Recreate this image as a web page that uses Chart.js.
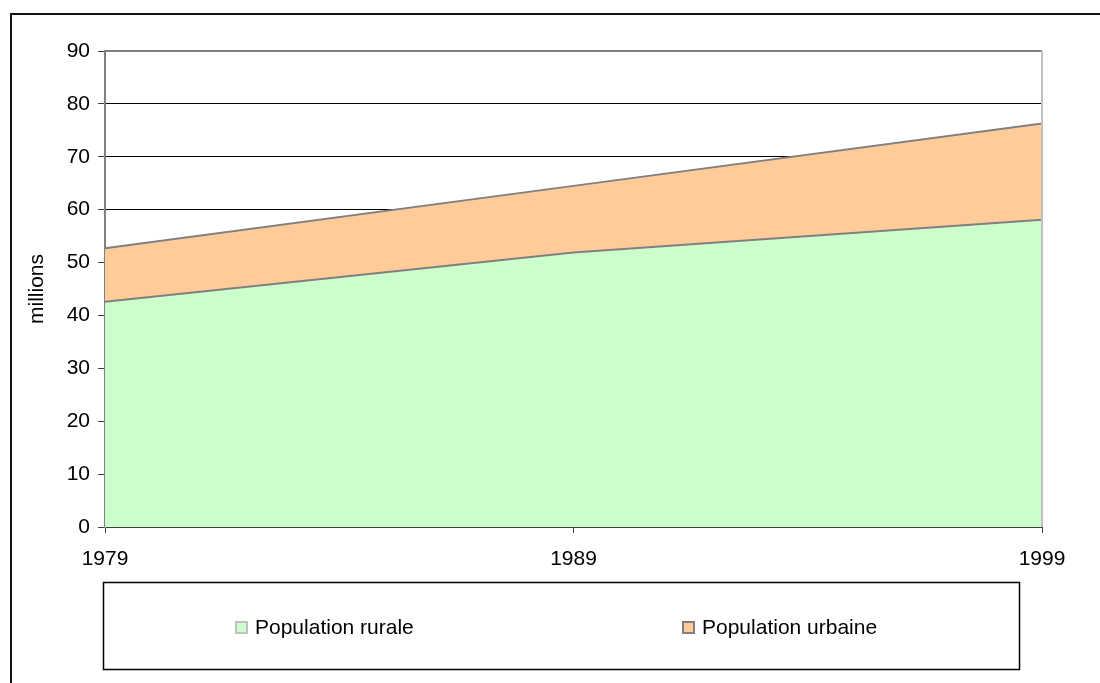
<!DOCTYPE html>
<html>
<head>
<meta charset="utf-8">
<script src="https://cdn.jsdelivr.net/npm/chart.js@4"></script>
<style>
  html, body { margin: 0; padding: 0; background: #fff; overflow: hidden; }
  #wrap { position: relative; width: 1100px; height: 683px; }
  #frame { position: absolute; left: 10px; top: 13px; width: 1200px; height: 800px;
           border-top: 2px solid #111; border-left: 2px solid #111; }
  canvas { position: absolute; left: 0; top: 0; }
</style>
</head>
<body>
<div id="wrap">
  <div id="frame"></div>
  <canvas id="chart" width="1100" height="683"></canvas>
</div>
<script>
const years = ['1979', '1989', '1999'];
const rurale = [42.6, 51.9, 58.1];
const urbaine = [10.1, 12.6, 18.2];
const yTicks = [0, 10, 20, 30, 40, 50, 60, 70, 80, 90];

const FONT = "'Liberation Sans', Arial, sans-serif";
Chart.defaults.font.family = FONT;
Chart.defaults.color = '#000';

// plot border (top / right) + legend box
const decor = {
  id: 'decor',
  afterDatasetsDraw(chart) {
    const { ctx, chartArea: a } = chart;
    ctx.save();
    ctx.strokeStyle = '#808080';
    ctx.lineWidth = 2;
    ctx.beginPath();
    ctx.moveTo(a.left, a.top);
    ctx.lineTo(a.right, a.top);
    ctx.stroke();
    ctx.strokeStyle = '#c0c0c0';
    ctx.beginPath();
    ctx.moveTo(a.right, a.top);
    ctx.lineTo(a.right, a.bottom);
    ctx.stroke();
    ctx.restore();
  },
  afterDraw(chart) {
    const ctx = chart.ctx;
    ctx.save();
    ctx.strokeStyle = '#000';
    ctx.lineWidth = 1.5;
    ctx.strokeRect(103.5, 582.5, 916, 87);
    const items = [
      { x: 236, label: chart.data.datasets[0].label, fill: '#ccffcc', stroke: '#c0c0c0' },
      { x: 683, label: chart.data.datasets[1].label, fill: '#ffcc99', stroke: '#808080' },
    ];
    ctx.font = '21px ' + FONT;
    ctx.textBaseline = 'middle';
    ctx.fillStyle = '#000';
    items.forEach((it) => {
      ctx.fillStyle = it.fill;
      ctx.fillRect(it.x, 622, 11, 11);
      ctx.strokeStyle = it.stroke;
      ctx.lineWidth = 2;
      ctx.strokeRect(it.x, 622, 11, 11);
      ctx.fillStyle = '#000';
      ctx.fillText(it.label, it.x + 19, 628);
    });
    ctx.restore();
  },
};

new Chart(document.getElementById('chart').getContext('2d'), {
  type: 'line',
  data: {
    labels: years,
    datasets: [
      {
        label: 'Population rurale',
        data: rurale,
        backgroundColor: '#ccffcc',
        borderColor: '#808080',
        borderWidth: 2,
        fill: 'origin',
        pointRadius: 0,
        tension: 0,
      },
      {
        label: 'Population urbaine',
        data: urbaine,
        backgroundColor: '#ffcc99',
        borderColor: '#808080',
        borderWidth: 2,
        fill: '-1',
        pointRadius: 0,
        tension: 0,
      },
    ],
  },
  options: {
    responsive: false,
    animation: false,
    layout: { padding: { left: 0, right: 58, top: 51, bottom: 0 } },
    plugins: { legend: { display: false }, tooltip: { enabled: false } },
    scales: {
      x: {
        offset: false,
        afterFit: (s) => { s.height = 156; },
        ticks: { font: { size: 21 }, color: '#000', padding: 14, maxRotation: 0 },
        grid: { drawOnChartArea: false, tickLength: 6, color: '#404040' },
        border: { color: '#404040', width: 2 },
      },
      y: {
        stacked: true,
        min: 0,
        max: 90,
        afterFit: (s) => { s.width = 105; },
        afterBuildTicks: (s) => { s.ticks = yTicks.map((v) => ({ value: v })); },
        ticks: { font: { size: 21 }, color: '#000', padding: 8 },
        grid: {
          tickLength: 7,
          tickColor: '#404040',
          color: (c) => (c.tick && (c.tick.value === 0 || c.tick.value === 90) ? 'rgba(0,0,0,0)' : '#000'),
          lineWidth: 1,
        },
        border: { color: '#808080', width: 2 },
        title: { display: true, text: 'millions', font: { size: 21 }, color: '#000', padding: { top: 25, bottom: 0 } },
      },
    },
  },
  plugins: [decor],
});
</script>
</body>
</html>
